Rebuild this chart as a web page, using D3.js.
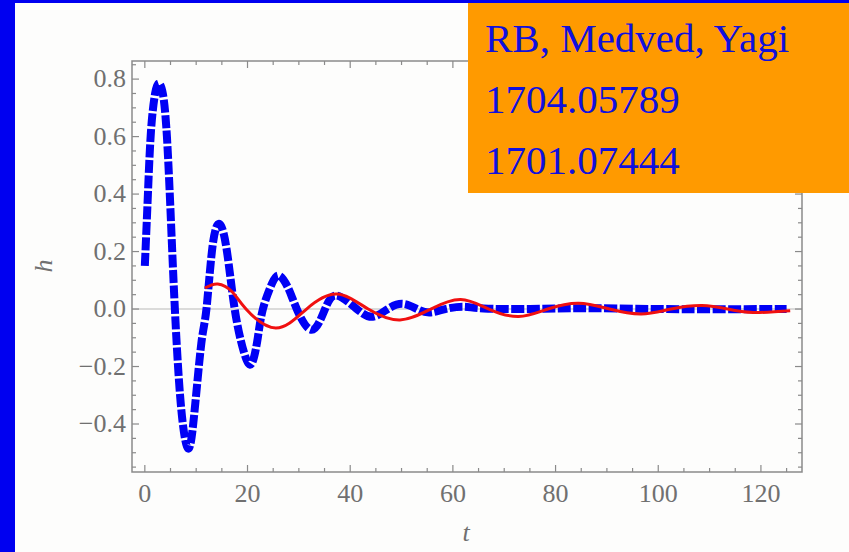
<!DOCTYPE html>
<html lang="en">
<head>
  <meta charset="UTF-8">
  <title>Damped ringdown h(t)</title>
  <script src="https://d3js.org/d3.v7.min.js"></script>
  <style>
    body {
      margin: 0;
      background: #fff;
    }
    svg {
      display: block;
    }
    .tick-label {
      font-family: "Liberation Serif", "Times New Roman", serif;
      font-size: 26px;
      fill: #707070;
    }
    .axis-title {
      font-family: "Liberation Serif", "Times New Roman", serif;
      font-style: italic;
      font-size: 26px;
      fill: #707070;
    }
    .credit {
      font-family: "Liberation Serif", "Times New Roman", serif;
      font-size: 41px;
      fill: #1010dd;
    }
  </style>
</head>
<body>
  <svg id="chart" width="849" height="552"></svg>

  <script>
    // blue dashed curve
    const blueT = [0, 0.6, 1.2, 2, 2.7, 3.5, 4.3, 5.1, 5.85, 7, 8.4, 9.6, 11, 12, 13.2, 14.6, 16, 17.5,
                   19.3, 20.8, 22, 23, 24.8, 26.3, 28, 29.6, 32.5, 35.1, 37.4, 41.3, 44.4, 47.3, 50.2,
                   53, 55.5, 58.5, 62, 66, 75, 85, 100, 125];
    const blueH = [0.15, 0.4, 0.62, 0.75, 0.785, 0.75, 0.6, 0.3, 0, -0.33, -0.485, -0.37, -0.12, 0, 0.22, 0.295, 0.2, 0,
                   -0.15, -0.19, -0.1, 0, 0.09, 0.115, 0.07, 0, -0.072, 0, 0.047, 0, -0.027, 0, 0.018,
                   0, -0.012, 0, 0.008, 0.002, 0, 0.003, 0, 0];

    // red solid curve
    const redT = [11.7, 14.2, 17, 19.7, 25.5, 31.5, 37.4, 43.5, 49.7, 55.7, 61.5, 67, 72.8, 78.5,
                  84.5, 90.5, 96.7, 102.5, 108.5, 113.5, 118.5, 125.7];
    const redH = [0.073, 0.087, 0.06, 0, -0.066, 0, 0.052, 0, -0.038, 0, 0.033, 0, -0.026, 0,
                  0.02, 0, -0.017, 0, 0.012, 0, -0.012, -0.006];

    const xTicks = [0, 20, 40, 60, 80, 100, 120];
    const yTicks = [-0.4, -0.2, 0.0, 0.2, 0.4, 0.6, 0.8];
    const credits = ["RB, Medved, Yagi", "1704.05789", "1701.07444"];

    const svg = d3.select("#chart");
    const W = 849, H = 552;
    const frame = { left: 132, right: 802, top: 61, bottom: 472 };

    const x = d3.scaleLinear().domain([-2.5, 128]).range([frame.left, frame.right]);
    const y = d3.scaleLinear().domain([-0.567, 0.863]).range([frame.bottom, frame.top]);

    // slide background
    svg.append("rect").attr("width", W).attr("height", H).attr("fill", "#0000f0");
    svg.append("rect").attr("x", 15).attr("y", 3).attr("width", W - 15).attr("height", H - 3)
      .attr("fill", "#fdfdfc");

    // zero line
    svg.append("line")
      .attr("x1", frame.left).attr("x2", frame.right)
      .attr("y1", y(0)).attr("y2", y(0))
      .attr("stroke", "#cfcfcf").attr("stroke-width", 1.5);

    // frame + ticks on all four sides
    const g = svg.append("g");
    g.append("rect")
      .attr("x", frame.left).attr("y", frame.top)
      .attr("width", frame.right - frame.left).attr("height", frame.bottom - frame.top)
      .attr("fill", "none").attr("stroke", "#8a8a8a").attr("stroke-width", 1.5);

    const xMinor = d3.range(0, 126, 5);
    const yMinor = d3.range(-0.55, 0.86, 0.05).map(v => +v.toFixed(2));

    const xt = g.append("g").attr("stroke", "#8a8a8a").attr("stroke-width", 1.2);
    xMinor.forEach(v => {
      const len = v % 20 === 0 ? 7 : 4;
      xt.append("line").attr("x1", x(v)).attr("x2", x(v))
        .attr("y1", frame.bottom).attr("y2", frame.bottom - len);
      xt.append("line").attr("x1", x(v)).attr("x2", x(v))
        .attr("y1", frame.top).attr("y2", frame.top + len);
    });
    yMinor.forEach(v => {
      const major = Math.abs(Math.round(v * 5) - v * 5) < 1e-6;
      const len = major ? 7 : 4;
      xt.append("line").attr("y1", y(v)).attr("y2", y(v))
        .attr("x1", frame.left).attr("x2", frame.left + len);
      xt.append("line").attr("y1", y(v)).attr("y2", y(v))
        .attr("x1", frame.right).attr("x2", frame.right - len);
    });

    // tick labels
    g.selectAll("text.xl").data(xTicks).join("text")
      .attr("class", "tick-label xl")
      .attr("x", d => x(d)).attr("y", 502)
      .attr("text-anchor", "middle")
      .text(d => d);

    g.selectAll("text.yl").data(yTicks).join("text")
      .attr("class", "tick-label yl")
      .attr("x", 126).attr("y", d => y(d) + 8)
      .attr("text-anchor", "end")
      .text(d => (d < 0 ? "\u2212" : "") + Math.abs(d).toFixed(1));

    // axis titles
    svg.append("text").attr("class", "axis-title")
      .attr("transform", `translate(52,${y(0.15)}) rotate(-90)`)
      .attr("text-anchor", "middle")
      .text("h");
    svg.append("text").attr("class", "axis-title")
      .attr("x", 466).attr("y", 541)
      .attr("text-anchor", "middle")
      .text("t");

    // curves
    const line = d3.line()
      .x(d => x(d[0]))
      .y(d => y(d[1]))
      .curve(d3.curveNatural);

    svg.append("path")
      .datum(d3.zip(blueT, blueH))
      .attr("d", line)
      .attr("fill", "none")
      .attr("stroke", "#0000f5")
      .attr("stroke-width", 8)
      .attr("stroke-dasharray", "13,2.5");

    svg.append("path")
      .datum(d3.zip(redT, redH))
      .attr("d", line)
      .attr("fill", "none")
      .attr("stroke", "#f01010")
      .attr("stroke-width", 3);

    // credits box
    svg.append("rect")
      .attr("x", 468).attr("y", 3).attr("width", W - 468).attr("height", 190)
      .attr("fill", "#ff9a00");
    svg.selectAll("text.credit").data(credits).join("text")
      .attr("class", "credit")
      .attr("x", 485).attr("y", (d, i) => 52 + i * 61)
      .text(d => d);
  </script>
</body>
</html>
